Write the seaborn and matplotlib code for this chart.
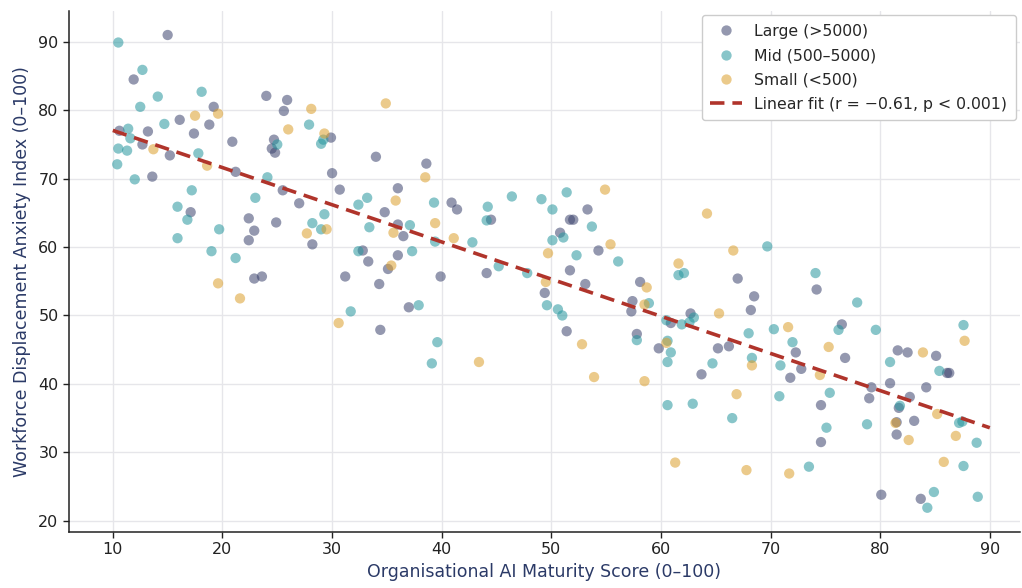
import numpy as np
import pandas as pd
import matplotlib
matplotlib.use("Agg")
import matplotlib.pyplot as plt
import seaborn as sns

large_x = [15.0, 11.9, 10.6, 13.2, 12.7, 13.6, 15.2, 16.1, 17.4, 18.8, 19.2, 17.1, 20.9, 21.2, 22.4, 22.9,
           22.4, 22.9, 23.6, 24.0, 25.9, 25.6, 24.7, 24.5, 24.8, 25.5, 24.9, 27.0, 28.2, 29.9, 30.0,
           30.7, 34.0, 38.6, 36.0, 34.8, 36.0, 36.5, 32.8, 33.3, 36.0, 35.1, 31.2, 34.3, 40.9, 41.4,
           44.5, 39.9, 44.1, 50.8, 51.7, 51.7, 49.4, 37.0, 34.4, 51.4,
           53.3, 52.0, 54.3, 53.1, 58.1, 67.0, 57.4, 57.3, 57.8, 59.8, 60.9, 62.7, 65.2, 66.2, 63.7,
           68.5, 68.2, 72.3, 71.8, 72.8,
           74.2, 76.5, 76.8, 74.6, 74.6, 79.0, 79.2, 80.9, 81.6, 82.5, 85.1, 86.1, 86.3, 84.2, 82.7,
           81.7, 83.1, 81.5, 81.5, 80.1, 83.7]
large_y = [91.0, 84.5, 77.0, 76.9, 75.0, 70.3, 73.4, 78.6, 76.6, 77.9, 80.5, 65.1, 75.4, 71.0, 64.2, 62.4,
           61.0, 55.4, 55.7, 82.1, 81.5, 79.9, 75.7, 74.4, 73.8, 68.3, 63.6, 66.4, 60.4, 76.0, 70.8,
           68.4, 73.2, 72.2, 68.6, 65.1, 63.3, 61.6, 59.5, 57.9, 58.8, 56.8, 55.7, 54.6, 66.5, 65.5,
           64.0, 55.7, 56.2, 62.1, 64.0, 56.6, 53.3, 51.2, 47.9, 47.7,
           65.5, 64.0, 59.5, 54.6, 54.9, 55.4, 52.1, 50.6, 47.3, 45.2, 48.9, 50.3, 45.2, 45.5, 41.4,
           52.8, 50.8, 44.6, 40.9, 42.2,
           53.8, 48.7, 43.8, 36.9, 31.5, 37.9, 39.5, 40.1, 44.9, 44.6, 44.1, 41.6, 41.6, 39.5, 38.1,
           36.5, 34.6, 32.6, 34.4, 23.8, 23.2]

mid_x = [10.5, 12.7, 12.5, 14.1, 18.1, 14.7, 11.4, 11.6, 10.5, 11.3, 10.4, 12.0, 17.8, 17.2, 15.9, 16.8,
         15.9, 19.7, 19.0, 21.2, 23.0, 24.1, 25.0, 27.9, 29.0, 29.2, 29.3, 28.2, 29.0,
         32.4, 33.2, 33.4, 37.1, 39.3, 39.4, 37.3, 32.4, 42.8, 44.2, 44.1, 46.4, 45.2, 47.8, 49.1,
         50.1, 51.4, 50.1, 51.1, 31.7, 37.9, 39.6, 39.1, 49.6, 50.6, 51.0,
         53.7, 52.3, 56.1, 61.6, 62.1, 69.7, 58.9, 57.8, 60.5, 60.6, 60.9, 60.6, 61.9, 63.0, 62.6,
         64.7, 60.6, 62.9, 66.5, 68.0, 68.3, 70.3, 72.0, 70.9, 70.8, 73.5,
         74.1, 77.9, 76.2, 79.6, 75.4, 75.1, 78.8, 80.9, 81.8, 85.4, 87.6, 87.2, 87.5, 88.8, 87.6,
         84.9, 84.3, 88.9]
mid_y = [89.9, 85.9, 80.5, 82.0, 82.7, 78.0, 77.3, 75.9, 74.4, 74.1, 72.1, 69.9, 73.7, 68.3, 65.9, 64.0,
         61.3, 62.6, 59.4, 58.4, 67.2, 70.2, 75.0, 77.9, 75.1, 75.7, 64.8, 63.5, 62.6,
         66.2, 67.2, 62.9, 63.2, 66.5, 60.8, 59.4, 59.4, 60.7, 65.9, 63.9, 67.4, 57.2, 56.2, 67.0,
         65.5, 68.0, 61.0, 61.4, 50.6, 51.5, 46.1, 43.0, 51.5, 50.9, 50.0,
         63.0, 58.8, 57.9, 55.9, 56.2, 60.1, 51.8, 46.4, 49.3, 46.3, 44.6, 43.2, 48.7, 49.7, 49.0,
         43.0, 36.9, 37.1, 35.0, 47.4, 43.8, 48.0, 46.1, 42.7, 38.2, 27.9,
         56.2, 51.9, 47.9, 47.9, 38.7, 33.6, 34.1, 43.2, 36.8, 41.9, 48.6, 34.3, 34.5, 31.4, 28.0,
         24.2, 21.9, 23.5]

small_x = [17.5, 19.6, 13.7, 18.6, 19.6, 21.6, 28.1, 26.0, 29.3, 27.7, 29.5, 30.6,
           34.9, 38.5, 35.8, 39.4, 35.6, 41.1, 35.4, 49.7, 49.5, 43.4,
           54.9, 55.4, 64.2, 66.6, 61.6, 58.7, 58.5, 52.8, 53.9, 58.5, 60.5, 65.3, 68.3, 66.9,
           61.3, 67.8, 71.7, 71.6,
           75.3, 74.5, 83.9, 87.7, 85.2, 82.6, 86.9, 85.8, 81.4]
small_y = [79.2, 79.5, 74.3, 71.9, 54.7, 52.5, 80.2, 77.2, 76.6, 62.0, 62.6, 48.9,
           81.0, 70.2, 66.8, 63.5, 62.1, 61.3, 57.3, 59.1, 54.9, 43.2,
           68.4, 60.4, 64.9, 59.5, 57.6, 54.1, 51.6, 45.8, 41.0, 40.4, 46.0, 50.3, 42.7, 38.5,
           28.5, 27.4, 26.9, 48.3,
           45.4, 41.3, 44.6, 46.3, 35.6, 31.8, 32.4, 28.6, 34.3]

groups = ["Large (>5000)", "Mid (500\u20135000)", "Small (<500)"]
colors = ["#3c446e", "#26969e", "#dc9f2c"]
fit_range = [10, 90]

df = pd.concat([
    pd.DataFrame({"x": large_x, "y": large_y, "g": groups[0]}),
    pd.DataFrame({"x": mid_x, "y": mid_y, "g": groups[1]}),
    pd.DataFrame({"x": small_x, "y": small_y, "g": groups[2]}),
], ignore_index=True)

sns.set_theme(style="whitegrid")
plt.rcParams["font.family"] = ["DejaVu Sans"]

fig = plt.figure(figsize=(10.22, 5.88), dpi=100)
ax = fig.add_axes([0.0675, 0.0952, 0.9305, 0.886])

sns.scatterplot(data=df, x="x", y="y", hue="g", hue_order=groups,
                palette=colors, s=55, alpha=0.55, linewidth=0, ax=ax)

slope, intercept = np.polyfit(df["x"], df["y"], 1)
fx = np.array(fit_range, dtype=float)
ax.plot(fx, intercept + slope * fx, color="#b0342b", lw=2.6, ls=(0, (4, 2.2)),
        label="Linear fit (r = \u22120.61, p < 0.001)")

ax.set_xlim(6.0, 92.75)
ax.set_ylim(18.35, 94.5)
ax.set_xticks([10, 20, 30, 40, 50, 60, 70, 80, 90])
ax.set_yticks([20, 30, 40, 50, 60, 70, 80, 90])
ax.grid(True, color="#e6e6ea", lw=1.0)
for s in ["top", "right"]:
    ax.spines[s].set_visible(False)
for s in ["left", "bottom"]:
    ax.spines[s].set_color("#222222")
    ax.spines[s].set_linewidth(1.1)
ax.tick_params(axis="both", which="both", length=4.5, width=1, color="#222222", pad=3,
               labelsize=11.5, labelcolor="#222222", bottom=True, left=True)

ax.set_xlabel("Organisational AI Maturity Score (0\u2013100)", fontsize=12.5, color="#2b3a67", labelpad=4)
ax.set_ylabel("Workforce Displacement Anxiety Index (0\u2013100)", fontsize=12.5, color="#2b3a67", labelpad=5)

leg = ax.legend(loc="upper right", fontsize=11.3, frameon=True, framealpha=1,
                edgecolor="#cccccc", title=None, borderpad=0.55, handletextpad=0.8,
                labelspacing=0.6, borderaxespad=0.25)
leg.get_frame().set_linewidth(1.0)

fig.savefig("out.png", dpi=100)
